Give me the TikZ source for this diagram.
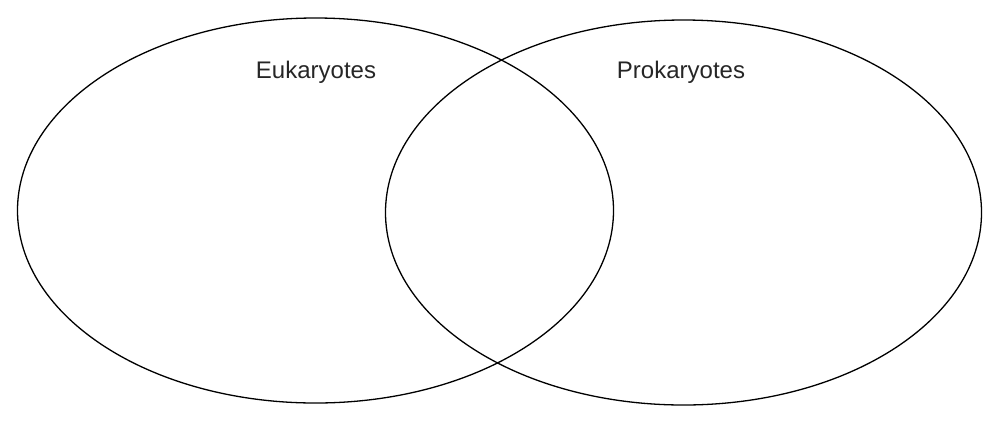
\documentclass[tikz,border=0pt]{standalone}
\usepackage{fontspec}
\setmainfont{Liberation Sans}
\usetikzlibrary{shapes.geometric}
\begin{document}
\begin{tikzpicture}[x=1pt,y=-1pt,
  set/.style={draw=black,line width=1.3pt,ellipse,inner sep=0pt,minimum width=596pt,minimum height=385pt},
  lbl/.style={font=\fontsize{24}{28}\selectfont,text=black!85}]
\useasboundingbox (0,0) rectangle (1000,424);
\node[set] (euk) at (315.5,210.5) {};
\node[set] (pro) at (683.5,212.5) {};
\node[lbl] (eukl) at (316,72) {Eukaryotes};
\node[lbl] (prol) at (681,72) {Prokaryotes};
\end{tikzpicture}
\end{document}
